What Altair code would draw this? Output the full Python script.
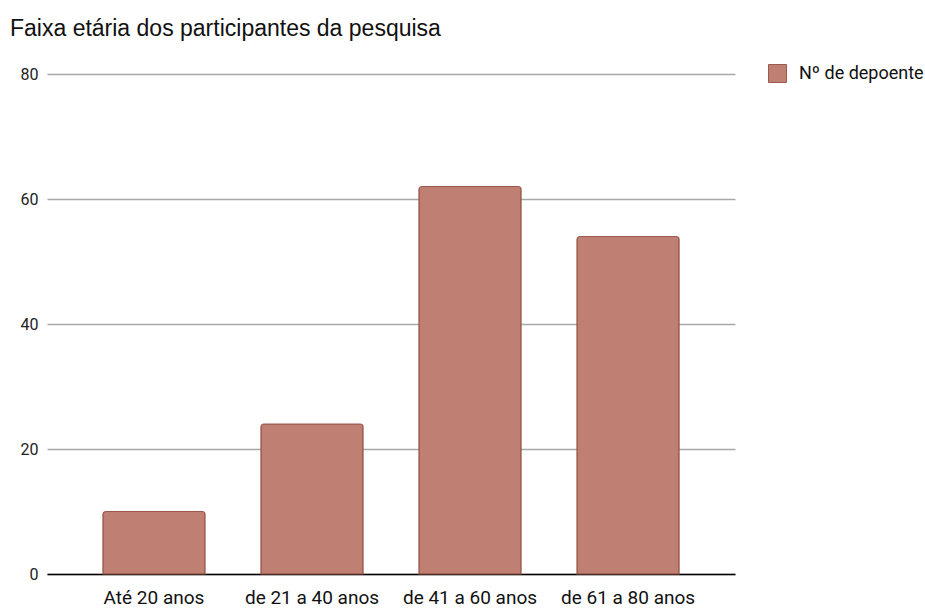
import altair as alt
import pandas as pd

categories = ["Até 20 anos", "de 21 a 40 anos", "de 41 a 60 anos", "de 61 a 80 anos"]
values = [10, 24, 62, 54]
series_name = "Nº de depoente"

df = pd.DataFrame({"faixa": categories, "valor": values, "serie": [series_name] * len(categories)})

chart = alt.Chart(df).mark_bar(
    cornerRadiusTopLeft=3, cornerRadiusTopRight=3,
    stroke="#9c5a4e", strokeWidth=1.2
).encode(
    x=alt.X("faixa:N", sort=categories, title=None,
            scale=alt.Scale(paddingInner=0.354, paddingOuter=0.354),
            axis=alt.Axis(labelAngle=0, labelFont="Roboto", labelFontSize=19, labelColor="#111111",
                          labelPadding=14, ticks=False, domainColor="#000000", domainWidth=1.5,
                          grid=False)),
    y=alt.Y("valor:Q", title=None,
            scale=alt.Scale(domain=[0, 80]),
            axis=alt.Axis(values=[0, 20, 40, 60, 80], labelFont="Roboto", labelFontSize=16,
                          labelColor="#222222", labelPadding=9, ticks=False, domain=False,
                          gridColor="#a8a8a8", gridWidth=1.5)),
    color=alt.Color("serie:N", scale=alt.Scale(range=["#c07f73"]), title=None,
                    legend=alt.Legend(orient="none", legendX=721, legendY=-10,
                                      symbolType="square", symbolSize=324,
                                      symbolStrokeColor="#9c5a4e", symbolStrokeWidth=1,
                                      labelFont="Roboto", labelFontSize=18, labelColor="#111111",
                                      labelOffset=12)),
).properties(
    width=688, height=500,
    title=alt.TitleParams("Faixa etária dos participantes da pesquisa", anchor="start",
                          frame="group", baseline="alphabetic",
                          font="Liberation Sans", fontSize=23, fontWeight="normal",
                          color="#111111", dx=-37, offset=5),
    autosize=alt.AutoSizeParams(type="none"),
    padding={"left": 47, "top": 74, "right": 190, "bottom": 36},
).configure_view(stroke=None)

chart.save("out.html", embed_options={"renderer": "svg", "actions": False})
